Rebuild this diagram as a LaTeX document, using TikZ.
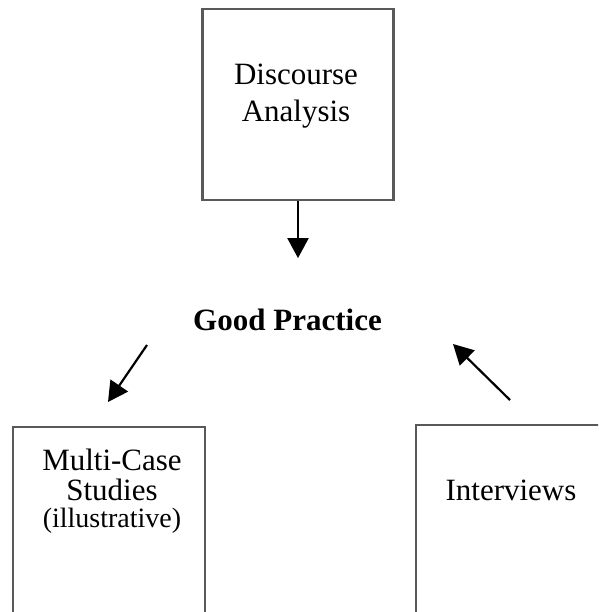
\documentclass[tikz,border=0pt]{standalone}
\usepackage{fontspec}
\setmainfont{Liberation Serif}
\usetikzlibrary{arrows.meta,positioning}

\tikzset{
  box/.style={draw=black!65, line width=2.2pt, inner sep=0pt},
  lbl/.style={font=\fontsize{31}{37}\selectfont, align=center, inner sep=0pt, anchor=base},
  arr/.style={-{Triangle[length=20pt,width=21pt]}, line width=2.2pt, black},
}

\begin{document}
\begin{tikzpicture}[x=1pt,y=-1pt]
\clip (0,0) rectangle (598,612);
\fill[white] (0,0) rectangle (598,612);

% boxes
\node[box, minimum width=191, minimum height=191] (da) at (298,104.5) {};
\node[box, minimum width=192, minimum height=300, anchor=north] (mc) at (109,426) {};
\node[box, minimum width=290, minimum height=300, anchor=north west] (iv) at (415,424) {};

% labels (base = last line)
\node[lbl] (da-txt) at (296,122) {Discourse\\Analysis};
\node[lbl, font=\fontsize{31}{37}\selectfont\bfseries] (gp) at (287.5,330) {Good Practice};
\node[lbl, font=\fontsize{31}{31}\selectfont] (mc-txt) at (112,527)
  {Multi-Case\\[-1pt]Studies\\[-4pt]{\fontsize{28}{30}\selectfont (illustrative)}};
\node[lbl] (iv-txt) at (511,500) {Interviews};

% arrows
\coordinate (mc-a) at (147,345);
\coordinate (mc-b) at (108,402);
\coordinate (iv-a) at (510,400);
\coordinate (iv-b) at (453,344);
\draw[arr] (da.south) -- ++(0,57);
\draw[arr] (mc-a) -- (mc-b);
\draw[arr] (iv-a) -- (iv-b);
\end{tikzpicture}
\end{document}
